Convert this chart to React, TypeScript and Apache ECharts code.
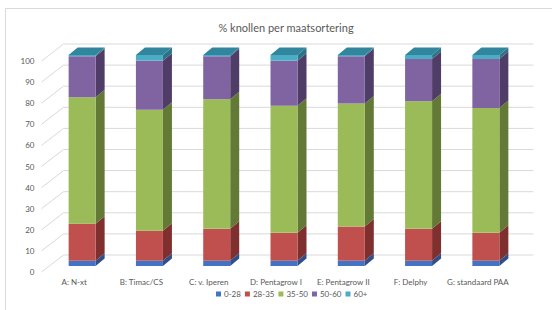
import React, { useEffect, useRef } from "react";
import * as echarts from "echarts";

const title = "% knollen per maatsortering";
const categories = ["A: N-xt", "B: Timac/CS", "C: v. Iperen", "D: Pentagrow I", "E: Pentagrow II", "F: Delphy", "G: standaard PAA"];
const seriesNames = ["0-28", "28-35", "35-50", "50-60", "60+"];
const s0_28 = [2.5, 2.5, 2.5, 2.5, 2.5, 2.5, 2.5];
const s28_35 = [17.5, 14.2, 15.1, 13.2, 16.2, 15.1, 13.2];
const s35_50 = [60, 57.3, 61.4, 60.2, 58.3, 60.5, 59.2];
const s50_60 = [19.4, 23.3, 20.4, 21.4, 22.4, 20, 23.2];
const s60plus = [0.6, 2.7, 0.6, 2.7, 0.6, 1.9, 1.9];
const yTicks = [0, 10, 20, 30, 40, 50, 60, 70, 80, 90, 100];

const frontColors = ["#4472C4", "#C0504D", "#9BBB59", "#8064A2", "#4BACC6"];
const sideColors = ["#2E4F8A", "#7F302E", "#627A36", "#4F3D67", "#2C7386"];
const topColor = "#31859C";

const WALL_DX = 22;
const WALL_DY = -17;
const BAR_DX = 8;
const BAR_DY = -6;
const BAR_W = 27;
const DEPTH_X = 9;
const DEPTH_Y = -7.5;
const FONT = "Lato, 'Open Sans', sans-serif";
const TEXT = "#595959";

export default function App() {
  const ref = useRef<HTMLDivElement>(null);
  useEffect(() => {
    if (!ref.current) return;
    const chart = echarts.init(ref.current, null, { renderer: "svg" });
    const all = [s0_28, s28_35, s35_50, s50_60, s60plus];
    const cum: number[][] = [];
    categories.forEach((_, i) => {
      let acc = 0;
      all.forEach((arr, k) => {
        if (!cum[k]) cum[k] = [];
        cum[k][i] = acc;
        acc += arr[i];
      });
    });

    const gridSeries: any = {
      type: "custom",
      name: "grid",
      z: 1,
      silent: true,
      data: yTicks.map((t) => [0, t]),
      encode: { x: 0, y: 1 },
      renderItem: (params: any, api: any) => {
        const y = api.coord([0, api.value(1)])[1];
        const cs = params.coordSys;
        const x0 = cs.x + 1;
        const x1 = cs.x + cs.width;
        return {
          type: "polyline",
          shape: { points: [[x0, y], [x0 + WALL_DX, y + WALL_DY], [x1 + WALL_DX, y + WALL_DY]] },
          style: { stroke: "#d9d9d9", lineWidth: 1, fill: "none" },
        };
      },
    };

    const barSeries = all.map((arr, k) => ({
      type: "custom",
      name: seriesNames[k],
      z: 2 + k,
      itemStyle: { color: frontColors[k] },
      data: arr.map((v, i) => [i, cum[k][i], cum[k][i] + v]),
      encode: { x: 0, y: [1, 2] },
      renderItem: (params: any, api: any) => {
        const i = api.value(0);
        const pLo = api.coord([i, api.value(1)]);
        const pHi = api.coord([i, api.value(2)]);
        const xL = pLo[0] + BAR_DX - BAR_W / 2;
        const xR = xL + BAR_W;
        const yB = pLo[1] + BAR_DY;
        const yT = pHi[1] + BAR_DY;
        const children: any[] = [
          {
            type: "polygon",
            shape: { points: [[xR, yT], [xR + DEPTH_X, yT + DEPTH_Y], [xR + DEPTH_X, yB + DEPTH_Y], [xR, yB]] },
            style: { fill: sideColors[k] },
          },
          {
            type: "rect",
            shape: { x: xL, y: yT, width: BAR_W, height: yB - yT },
            style: { fill: frontColors[k] },
          },
        ];
        if (k === all.length - 1) {
          children.push({
            type: "polygon",
            shape: { points: [[xL, yT], [xR, yT], [xR + DEPTH_X, yT + DEPTH_Y], [xL + DEPTH_X, yT + DEPTH_Y]] },
            style: { fill: topColor },
          });
        }
        return { type: "group", children };
      },
    }));

    chart.setOption({
      animation: false,
      backgroundColor: "#ffffff",
      title: {
        text: title,
        left: 281,
        textAlign: "center",
        top: 17,
        textStyle: { fontFamily: FONT, fontSize: 11, fontWeight: "normal", color: TEXT },
      },
      graphic: [
        {
          type: "rect",
          shape: { x: 5.5, y: 8.5, width: 600, height: 400 },
          style: { fill: "none", stroke: "#d9d9d9", lineWidth: 1 },
          silent: true,
          z: 0,
        },
      ],
      legend: {
        data: seriesNames,
        top: 290,
        left: 216,
        padding: 0,
        itemGap: 4,
        itemWidth: 5,
        itemHeight: 5,
        icon: "rect",
        textStyle: { fontFamily: FONT, fontSize: 8, color: TEXT, padding: [0, 0, 0, -2] },
      },
      grid: { left: 40.5, right: 40.5, top: 61, bottom: 38, containLabel: false },
      xAxis: {
        type: "category",
        data: categories,
        axisLine: { show: false },
        axisTick: { show: false },
        axisLabel: { fontFamily: FONT, fontSize: 8, color: TEXT, margin: 6, interval: 0 },
      },
      yAxis: {
        type: "value",
        min: 0,
        max: 100,
        interval: 10,
        axisLine: { show: false },
        axisTick: { show: false },
        splitLine: { show: false },
        axisLabel: { fontFamily: FONT, fontSize: 8, color: TEXT, margin: 6 },
      },
      series: [gridSeries, ...barSeries],
    });
    return () => chart.dispose();
  }, []);
  return <div ref={ref} style={{ position: "fixed", left: 0, top: 0, width: 552, height: 310 }} />;
}
